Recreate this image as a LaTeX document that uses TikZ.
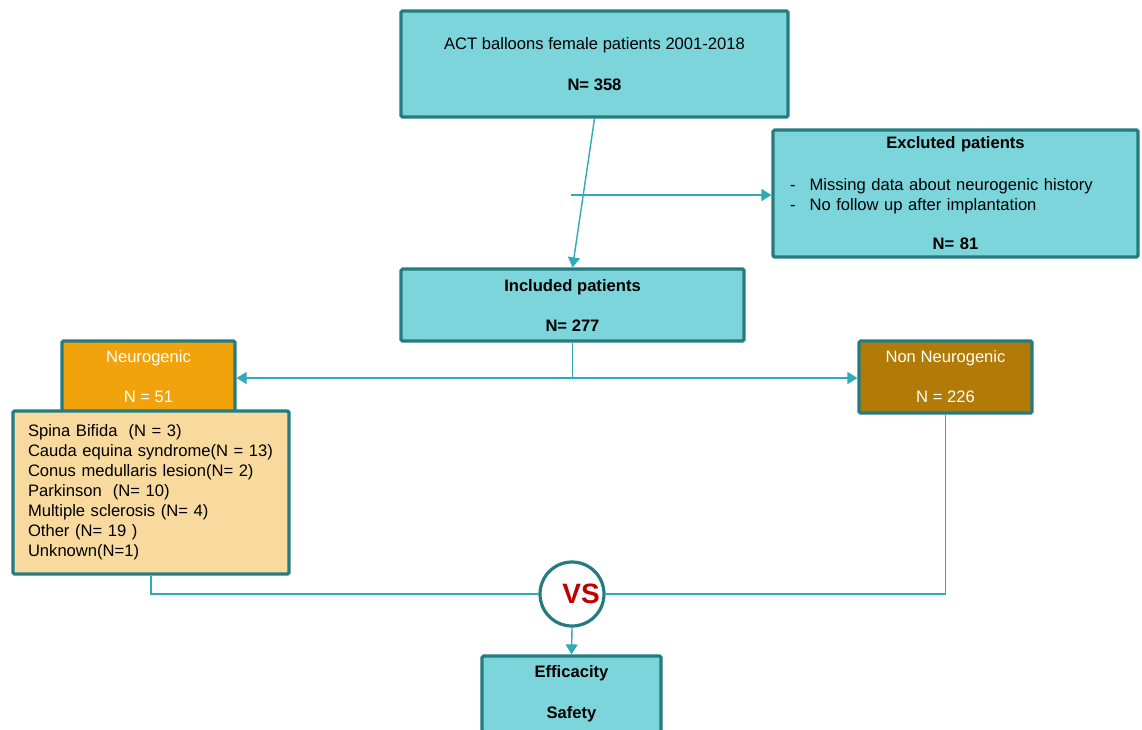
\documentclass[tikz,border=0pt]{standalone}
\usepackage{fontspec}
\setmainfont{Liberation Sans}
\usetikzlibrary{arrows.meta}
\definecolor{boxcyan}{RGB}{125,213,220}
\definecolor{boxedge}{RGB}{36,124,128}
\definecolor{linkcyan}{RGB}{46,171,183}
\definecolor{neuroorange}{RGB}{240,163,10}
\definecolor{nonneurogold}{RGB}{178,122,7}
\definecolor{subpeach}{RGB}{248,218,158}
\definecolor{vsred}{RGB}{192,0,0}

\begin{document}
\begin{tikzpicture}[x=1pt, y=-1pt, font=\fontsize{16.6}{20}\selectfont,
    box/.style={draw=boxedge, line width=3.2pt, rounded corners=1.5pt, fill=boxcyan, inner sep=0pt, align=center},
    link/.style={draw=linkcyan, line width=1.4pt},
    arr/.style={link, -{Triangle[length=10pt, width=12pt]}}]
    \useasboundingbox (0,0) rectangle (1142,729);

    % Nodes
    \node[box, minimum width=387pt, minimum height=106pt] (total) at (594.5,64) {ACT balloons female patients 2001-2018\\[21pt]\textbf{N= 358}};
    \node[box, minimum width=365pt, minimum height=127pt, text width=331pt, align=left] (excl) at (955.5,193.5) {%
        {\centering\textbf{Excluted patients}\par}\vspace{22pt}
        \noindent-\hspace{14pt}Missing data about neurogenic history\par
        \noindent-\hspace{14pt}No follow up after implantation\par\vspace{19pt}
        {\centering\textbf{N= 81}\par}};
    \node[box, minimum width=343pt, minimum height=72pt] (inc) at (572.5,305) {\textbf{Included patients}\\[20pt]\textbf{N= 277}};
    \node[box, fill=neuroorange, text=white, minimum width=173pt, minimum height=72pt] (neuro) at (148.5,377) {Neurogenic\\[20pt]N = 51};
    \node[box, fill=subpeach, minimum width=276pt, minimum height=163pt, text width=246pt, align=left] (sub) at (151,492.5) {%
        Spina Bifida\ \ (N = 3)\\
        Cauda equina syndrome(N = 13)\\
        Conus medullaris lesion(N= 2)\\
        Parkinson\ \ (N= 10)\\
        Multiple sclerosis (N= 4)\\
        Other (N= 19 )\\
        Unknown(N=1)};
    \node[box, fill=nonneurogold, text=white, minimum width=173pt, minimum height=72pt] (nonneuro) at (945.5,377) {Non Neurogenic\\[20pt]N = 226};
    \node[circle, draw=boxedge, line width=3.2pt, fill=white, minimum size=64pt, inner sep=0pt, text=vsred, font=\fontsize{28}{30}\selectfont\bfseries] (vs) at (572,594) {\hspace*{18pt}VS};
    \node[box, minimum width=179pt, minimum height=76pt] (eff) at (571.5,694) {\textbf{Efficacity}\\[21pt]\textbf{Safety}};

    % Edges
    \coordinate (split) at (571,195);
    \coordinate (fork) at (inc.south |- 0,378);
    \draw[arr] (total.south) -- (inc.north);
    \draw[arr] (split) -- (split -| excl.west);
    \draw[link] (inc.south) -- (fork);
    \draw[arr] (fork) -- (fork -| neuro.east);
    \draw[arr] (fork) -- (fork -| nonneuro.west);
    \draw[link] (sub.south) |- (vs.west);
    \draw[link] (nonneuro.south) |- (vs.east);
    \draw[arr] (vs.south) -- (eff.north);
\end{tikzpicture}
\end{document}
